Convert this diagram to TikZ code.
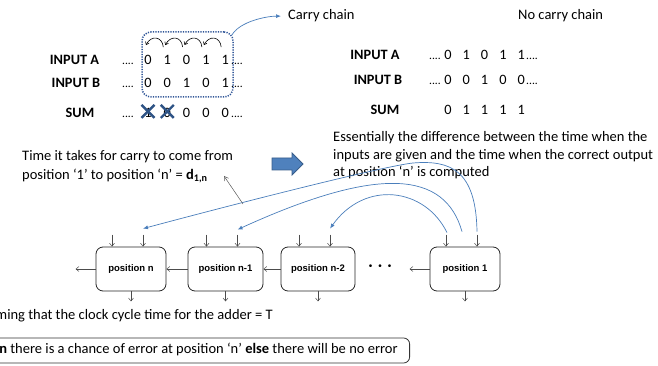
\documentclass[tikz,border=0pt]{standalone}
\usepackage{fontspec}
\setmainfont{Carlito}
\newfontfamily\boxfont{Liberation Sans}
\usetikzlibrary{arrows.meta}

\definecolor{linkblue}{HTML}{4A7EBB}
\definecolor{frameblue}{HTML}{2F5597}
\definecolor{crossblue}{HTML}{2E5385}
\definecolor{fillblue}{HTML}{4F81BD}
\definecolor{edgeblue}{HTML}{385D8A}

\begin{document}
\begin{tikzpicture}[x=1pt,y=-1pt,
  txt/.style={inner sep=0pt, anchor=base west, font=\fontsize{14.5}{17.5}\selectfont},
  headtxt/.style={inner sep=0pt, anchor=base, font=\fontsize{14.3}{17}\selectfont\bfseries},
  dig/.style={inner sep=0pt, anchor=base, font=\fontsize{14.3}{17}\selectfont},
  ellip/.style={inner sep=0pt, font=\fontsize{11.5}{14}\selectfont},
  posbox/.style={draw=black!85, line width=0.8pt, rounded corners=7pt, minimum height=44pt,
    inner sep=0pt, font=\boxfont\bfseries\fontsize{9.5}{11}\selectfont},
  tick/.style={draw=black!70, line width=0.5pt, -{Straight Barb[length=3pt,width=5pt]}},
  link/.style={draw=linkblue, line width=0.7pt, -{Latex[length=5pt,width=4pt]}},
  carryarc/.style={draw=black, line width=0.6pt, -{Straight Barb[length=2.5pt,width=4pt]}},
  xmark/.style={draw=crossblue, line width=2.4pt},
  note/.style={draw=black!65, line width=0.5pt, -{Straight Barb[length=4pt,width=5pt]}},
]
\useasboundingbox (0,0) rectangle (658,366);
\clip (0,0) rectangle (658,366);

% ---------- carry chain example ----------
\node[headtxt] (la) at (74.5,64.5) {INPUT A};
\node[headtxt] (lb) at (76,87.5) {INPUT B};
\node[headtxt] (ls) at (80,117.5) {SUM};

\foreach \v [count=\i] in {0,1,0,1,1}
  \node[dig] (a\i) at ({148+19.3*(\i-1)},64.5) {\v};
\foreach \v [count=\i] in {0,0,1,0,1}
  \node[dig] (b\i) at ({148+19.3*(\i-1)},87.5) {\v};
\foreach \v [count=\i] in {1,0,0,0,0}
  \node[dig] (s\i) at ({148+19.3*(\i-1)},117.5) {\v};
\foreach \r/\y in {a/64.5,b/87.5,s/117.5}{
  \node[ellip, anchor=base east] (\r lead) at (134,\y) {....};
  \node[ellip, anchor=base west] (\r tail) at (231,\y) {....};
}

% wrong sum bits
\foreach \k in {s1,s2}{
  \draw[xmark] ([xshift=-6.5pt,yshift=-5pt]\k.center) -- ([xshift=6.5pt,yshift=8pt]\k.center);
  \draw[xmark] ([xshift=-6.5pt,yshift=8pt]\k.center) -- ([xshift=6.5pt,yshift=-5pt]\k.center);
}

% carries rippling to the left
\foreach \i/\j in {1/2,2/3,3/4,4/5}
  \draw[carryarc] ([xshift=-4pt,yshift=8pt]a\j.north) .. controls +(-1,-11) and +(5,-10)
    .. ([xshift=-2pt,yshift=10pt]a\i.north);

\node[draw=frameblue, line width=1.5pt, dash pattern=on 1.2pt off 1.3pt, rounded corners=9pt,
  minimum width=91pt, minimum height=65pt] (chain) at (187.5,64.5) {};

\node[txt] (carry) at (288,20) {Carry chain};
\draw[link] ([xshift=-2pt,yshift=-4pt]chain.north east) .. controls +(8,-14) and +(-14,0)
  .. ([xshift=-7pt]carry.west);

% ---------- no carry chain example ----------
\node[txt] (nocarry) at (518,20) {No carry chain};
\node[headtxt] (ra) at (375,59.5) {INPUT A};
\node[headtxt] (rb) at (378,84.5) {INPUT B};
\node[headtxt] (rs) at (385,114.5) {SUM};
\foreach \v [count=\i] in {0,1,0,1,1}
  \node[dig] (c\i) at ({448+18.3*(\i-1)},59.5) {\v};
\foreach \v [count=\i] in {0,0,1,0,0}
  \node[dig] (e\i) at ({448+18.3*(\i-1)},84.5) {\v};
\foreach \v [count=\i] in {0,1,1,1,1}
  \node[dig] (t\i) at ({448+18.3*(\i-1)},114.5) {\v};
\foreach \r/\y in {c/59.5,e/84.5}{
  \node[ellip, anchor=base east] (\r lead) at (441,\y) {....};
  \node[ellip, anchor=base west] (\r tail) at (526,\y) {....};
}

% ---------- explanations ----------
\node[txt] (time1) at (22,161) {Time it takes for carry to come from};
\node[txt] (time2) at (22,179) {position ‘1’ to position ‘n’ = \textbf{d}\textsubscript{\textbf{1,n}}};

\draw[fill=fillblue, draw=edgeblue, line width=0.8pt]
  (272,158) -- (292,158) -- (292,153) -- (303,164) -- (292,175) -- (292,170) -- (272,170) -- cycle;

\node[txt] (ess1) at (333,142) {Essentially the difference between the time when the};
\node[txt] (ess2) at (333,159.5) {inputs are given and the time when the correct output};
\node[txt] (ess3) at (333,177) {at position ‘n’ is computed};

% ---------- ripple carry adder ----------
\node[posbox, minimum width=70pt] (pn) at (131,269) {position n};
\node[posbox, minimum width=75pt] (pn1) at (225.5,269) {position n-1};
\node[posbox, minimum width=74pt] (pn2) at (318,269) {position n-2};
\node[posbox, minimum width=70pt] (p1) at (465,269) {position 1};
\node[inner sep=0pt, font=\boxfont\fontsize{10}{12}\selectfont] (gap) at (380,267)
  {\textbullet\hspace{6pt}\textbullet\hspace{6pt}\textbullet};

\foreach \b in {pn,pn1,pn2,p1}{
  \draw[tick] ([xshift=-19pt,yshift=12pt]\b.north) -- ([xshift=-19pt]\b.north);
  \draw[tick] ([xshift=12pt,yshift=12pt]\b.north) -- ([xshift=12pt]\b.north);
  \draw[tick] (\b.south) -- ([yshift=-10pt]\b.south);
}
\draw[tick] (pn1.west) -- (pn.east);
\draw[tick] (pn2.west) -- (pn1.east);
\draw[tick] (p1.west) -- ([xshift=-20pt]p1.west);
\draw[tick] (pn.west) -- ([xshift=-20pt]pn.west);

% carry paths from position 1
\draw[link] ([xshift=-18pt,yshift=14pt]p1.north) .. controls +(-22,-45) and +(35,-49)
  .. ([xshift=12pt,yshift=18pt]pn2.north);
\draw[link] ([xshift=-3pt,yshift=15pt]p1.north) .. controls +(-17,-60) and +(142.5,-65)
  .. ([xshift=12pt,yshift=17pt]pn1.north);
\draw[link] ([xshift=12pt,yshift=15pt]p1.north) .. controls +(-1,-62) and (450,160) .. (413,163)
  .. controls (385,166) and (250,200) .. ([xshift=12pt,yshift=18pt]pn.north);

\coordinate (dfoot) at (243,204);
\coordinate (dtip) at (224,176);
\draw[note] (dfoot) -- (dtip);

% ---------- condition ----------
\node[txt, anchor=base east] (assume) at (273,319) {Assuming that the clock cycle time for the adder = T};
\node[draw=black!80, line width=0.8pt, rounded corners=6pt, anchor=east, minimum height=25pt,
  inner xsep=12pt, inner ysep=0pt, font=\fontsize{14.5}{17}\selectfont] (cond) at (410,350.5)
  {If \textbf{d}\textsubscript{\textbf{1,n}} > T \textbf{then} there is a chance of error at position ‘n’ \textbf{else} there will be no error};
\end{tikzpicture}
\end{document}
